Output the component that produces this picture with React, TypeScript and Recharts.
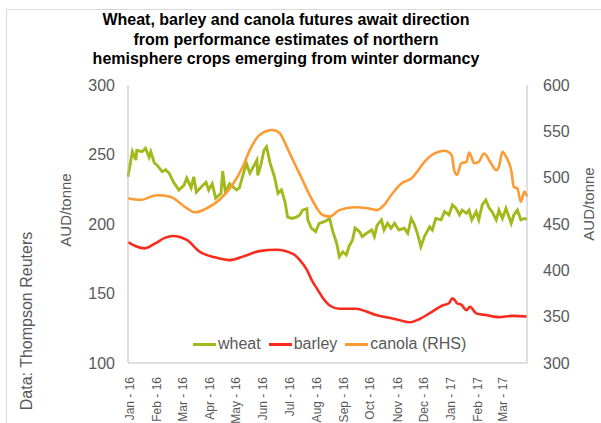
import { LineChart, Line, XAxis, YAxis } from "recharts";

// day offsets from 1 Jan 2016
const monthTicks = [0, 31, 60, 91, 121, 152, 182, 213, 244, 274, 305, 335, 366, 397, 425];
const monthLabels = [
  "Jan - 16", "Feb - 16", "Mar - 16", "Apr - 16", "May - 16", "Jun - 16", "Jul - 16",
  "Aug - 16", "Sep - 16", "Oct - 16", "Nov - 16", "Dec - 16", "Jan - 17", "Feb - 17", "Mar - 17",
];

// [day, AUD/tonne]
const wheatPoints: [number, number][] = [
  [0, 234], [5, 252], [9, 246], [10, 253], [16, 252], [20, 254.5], [24, 248], [26, 252],
  [30, 244], [33, 242.5], [39, 237.6], [43, 239], [47, 236.5], [52, 230], [58, 224.5],
  [64, 228], [67, 233], [72, 226], [75, 234], [78, 223], [84, 227], [89, 230], [92, 224.5],
  [96, 229], [100, 218.5], [106, 222], [108, 238], [111, 223], [116, 229], [119, 227],
  [124, 224.5], [127, 226], [131, 235], [135, 243.7], [139, 236.5], [142, 240], [147, 246],
  [148, 235], [152, 243.7], [155, 253], [158, 255.6], [162, 244], [167, 234], [171, 222],
  [175, 224.5], [179, 216], [182, 205], [187, 204], [192, 205], [196, 206.5], [199, 210],
  [204, 211], [205, 203], [209, 197], [214, 194.5], [218, 200.5], [224, 201.7], [230, 204],
  [233, 195.7], [238, 186], [241, 176.5], [245, 180], [249, 177.7], [252, 183.7], [256, 188.5],
  [259, 197], [264, 194.5], [267, 191], [272, 193.3], [278, 195.7], [281, 191], [284, 199],
  [289, 203], [292, 195.7], [296, 200.5], [300, 197], [304, 200.5], [309, 195.7], [315, 197],
  [319, 193.3], [323, 204], [326, 200.5], [330, 193.3], [334, 183.7], [338, 191], [344, 198],
  [347, 195.7], [351, 204], [357, 203], [361, 209], [366, 206.5], [370, 213.7], [374, 211.3],
  [378, 206.5], [381, 210], [386, 207.7], [389, 210], [392, 203], [397, 209], [400, 203],
  [404, 213.7], [408, 217.3], [412, 211.3], [415, 209], [420, 203], [423, 210], [427, 204],
  [431, 211.3], [437, 200.5], [440, 206.5], [444, 210], [448, 203], [452, 204], [455, 203.4],
];

const barleyPoints: [number, number][] = [
  [0, 187], [9, 184], [19, 182.5], [31, 186], [42, 190], [51, 191.4], [67, 188.5], [82, 180],
  [99, 176], [116, 174], [133, 177], [150, 180.5], [169, 181.5], [188, 178.5], [196, 174],
  [204, 167], [210, 159], [216, 153], [222, 147], [231, 141], [241, 139], [260, 139],
  [272, 137], [283, 134.5], [298, 132.5], [309, 131], [321, 129.3], [332, 131.5], [347, 137],
  [358, 141.2], [366, 143], [370, 146.5], [373, 145], [375, 143], [380, 142], [386, 138],
  [390, 140.5], [397, 135.7], [408, 134.5], [423, 133], [438, 133.9], [455, 133.5],
];

const canolaPoints: [number, number][] = [
  [0, 477.7], [14, 476], [33, 481], [48, 479.5], [67, 467], [76, 462.6], [90, 467],
  [105, 476.7], [119, 492], [131, 512], [139, 530], [150, 546], [165, 551.4], [173, 548],
  [181, 533.4], [188, 519], [199, 497.5], [210, 476], [222, 459.7], [230, 458], [241, 465],
  [258, 468], [273, 467], [284, 465], [292, 470.5], [300, 481], [312, 494], [323, 499],
  [334, 512], [338, 517], [349, 526], [361, 529], [369, 524.5], [372, 508], [375, 503],
  [380, 515.5], [386, 517], [389, 527], [395, 515.5], [400, 517], [406, 526], [414, 515.5],
  [420, 508], [423, 512], [427, 528], [431, 522.6], [437, 508], [440, 490], [444, 488.5],
  [448, 474], [452, 485], [455, 479.5],
];

const leftTicks = [100, 150, 200, 250, 300];
const rightTicks = [300, 350, 400, 450, 500, 550, 600];

const series = [
  { key: "wheat", name: "wheat", color: "#a2b91c", points: wheatPoints, axis: "left", curve: "linear", width: 2.9 },
  { key: "barley", name: "barley", color: "#fa2a1c", points: barleyPoints, axis: "left", curve: "monotone", width: 2.6 },
  { key: "canola", name: "canola (RHS)", color: "#fd9a32", points: canolaPoints, axis: "right", curve: "monotone", width: 2.6 },
];

const FONT = "'Liberation Sans', Arial, sans-serif";
const GREY = "#595959";

const MonthTick = ({ x, y, payload }: any) => {
  const idx = monthTicks.indexOf(payload.value);
  const tx = x + 2;
  const ty = y + 6;
  return (
    <text
      x={tx}
      y={ty}
      transform={`rotate(-90 ${tx} ${ty})`}
      textAnchor="end"
      dy="0.35em"
      fontSize={12}
      fill={GREY}
      fontFamily={FONT}
    >
      {monthLabels[idx]}
    </text>
  );
};

export default function App() {
  return (
    <div style={{ position: "absolute", left: 0, top: 0, width: 601, height: 423, background: "#fff", fontFamily: FONT }}>
      <div
        style={{
          position: "absolute", left: 6, top: 9, width: 595, height: 414,
          borderTop: "1px solid #d9d9d9", borderLeft: "1px solid #d9d9d9",
        }}
      />
      <div
        style={{
          position: "absolute", left: 86, top: 10, width: 400, textAlign: "center",
          fontSize: 16, fontWeight: "bold", lineHeight: "19.5px", color: "#000",
        }}
      >
        Wheat, barley and canola futures await direction
        <br />
        from performance estimates of northern
        <br />
        hemisphere crops emerging from winter dormancy
      </div>
      <LineChart
        width={601}
        height={423}
        margin={{ top: 85, right: 0, bottom: 0, left: 0 }}
        style={{ position: "absolute", left: 0, top: 0 }}
      >
        <XAxis
          dataKey="day"
          type="number"
          domain={[0, 455]}
          ticks={monthTicks}
          interval={0}
          height={60}
          tickLine={false}
          axisLine={{ stroke: "#bfbfbf" }}
          tick={<MonthTick />}
          allowDuplicatedCategory={false}
        />
        <YAxis
          yAxisId="left"
          orientation="left"
          width={128}
          domain={[100, 300]}
          ticks={leftTicks}
          tickLine={false}
          tickMargin={7}
          axisLine={{ stroke: "#bfbfbf" }}
          tick={{ fontSize: 16, fill: GREY, fontFamily: FONT }}
        />
        <YAxis
          yAxisId="right"
          orientation="right"
          width={74}
          domain={[300, 600]}
          ticks={rightTicks}
          tickLine={false}
          tickMargin={10}
          axisLine={{ stroke: "#bfbfbf" }}
          tick={{ fontSize: 16, fill: GREY, fontFamily: FONT }}
        />
        {series.map((s) => (
          <Line
            key={s.key}
            yAxisId={s.axis}
            data={s.points.map(([day, v]) => ({ day, v }))}
            dataKey="v"
            name={s.name}
            type={s.curve as any}
            stroke={s.color}
            strokeWidth={s.width}
            dot={false}
            isAnimationActive={false}
          />
        ))}
      </LineChart>
      <div
        style={{
          position: "absolute", left: 65, top: 210, transform: "translate(-50%, -50%) rotate(-90deg)",
          fontSize: 15, color: GREY, whiteSpace: "nowrap",
        }}
      >
        AUD/tonne
      </div>
      <div
        style={{
          position: "absolute", left: 588, top: 204, transform: "translate(-50%, -50%) rotate(-90deg)",
          fontSize: 15, color: GREY, whiteSpace: "nowrap",
        }}
      >
        AUD/tonne
      </div>
      <div
        style={{
          position: "absolute", left: 27, top: 321, transform: "translate(-50%, -50%) rotate(-90deg)",
          fontSize: 16, color: GREY, whiteSpace: "nowrap",
        }}
      >
        Data: Thompson Reuters
      </div>
      <div
        style={{
          position: "absolute", left: 193, top: 335, display: "flex", alignItems: "center",
          fontSize: 16, color: GREY, whiteSpace: "nowrap",
        }}
      >
        {series.map((s) => (
          <div key={s.key} style={{ display: "flex", alignItems: "center", marginRight: 8 }}>
            <span style={{ display: "inline-block", width: 23, height: 3, background: s.color, marginRight: 2 }} />
            <span>{s.name}</span>
          </div>
        ))}
      </div>
    </div>
  );
}
